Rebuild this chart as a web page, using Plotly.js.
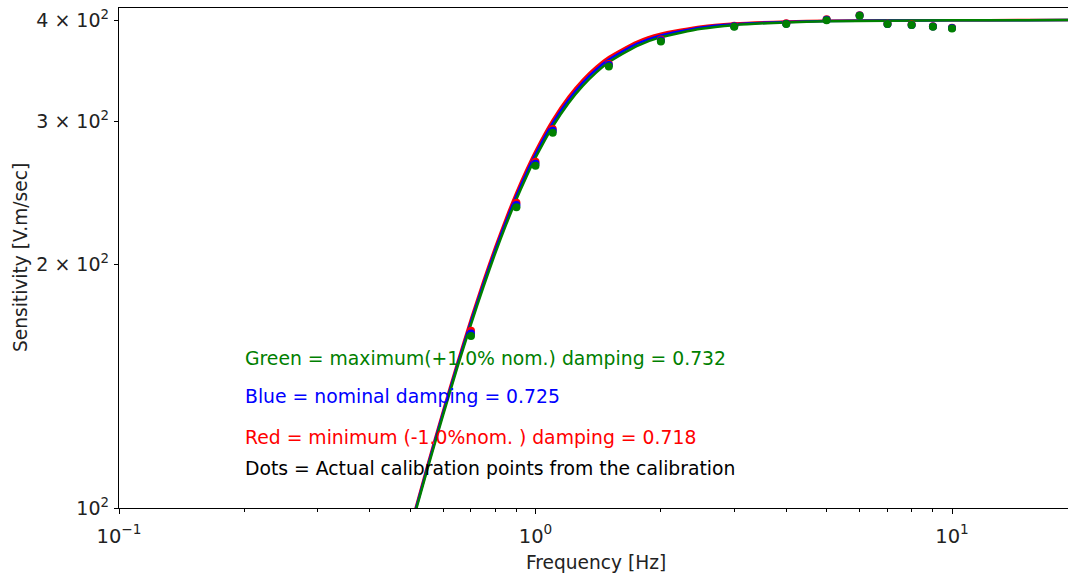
<!DOCTYPE html>
<html>
<head>
<meta charset="utf-8">
<script src="https://cdn.plot.ly/plotly-3.0.1.min.js"></script>
<style>html,body{margin:0;padding:0;background:#fff;}#chart{width:1068px;height:576px;}</style>
</head>
<body>
<div id="chart"></div>
<script>
// Curve frequencies [Hz]
const curveFreq = [0.5,0.55,0.6,0.65,0.7,0.75,0.8,0.85,0.9,0.95,1.0,1.1,1.2,1.3,1.4,1.5,1.75,2,2.5,3,4,5,7,10,15,20];
// Sensitivity curves [V.m/sec]
const redCurve   = [94.5,112.8,131.8,151.4,171.1,190.7,209.7,227.9,245.1,261.0,275.7,301.2,321.7,337.8,350.4,360.1,376.0,384.7,392.9,396.1,398.4,399.2,399.7,399.9,400.0,400.0];
const blueCurve  = [94.1,112.2,131.0,150.4,169.8,189.1,207.9,225.8,242.8,258.5,273.1,298.4,318.8,334.9,347.6,357.5,373.8,382.9,391.6,395.2,397.9,398.9,399.5,399.8,399.9,400.0];
const greenCurve = [93.7,111.6,130.2,149.4,168.5,187.5,206.1,223.7,240.5,256.0,270.5,295.6,315.9,332.0,344.8,354.9,371.6,381.1,390.3,394.3,397.4,398.6,399.3,399.7,399.9,400.0];
// Calibration points
const calFreq   = [0.7,0.9,1.0,1.1,1.5,2,3,4,5,6,7,8,9,10];
const redDots   = [165.5,238,267.5,293.5,353,378.5,393.5,396.5,401,405.5,396,395,393,391.5];
const blueDots  = [164.2,236.5,266,292,352,377.5,393,396,400.3,405.2,395.7,394.6,392.8,391];
const greenDots = [163,235,264.5,290.5,350.5,376.5,392.5,395.5,399.7,405,395.5,394.4,392.5,390.7];
// Tick labels
const xTickVals = [0.1,1,10];
const xTickText = ['10<sup>−1</sup>','10<sup>0</sup>','10<sup>1</sup>'];
const xMinorVals = [0.2,0.3,0.4,0.5,0.6,0.7,0.8,0.9,2,3,4,5,6,7,8,9];
const yTickVals = [100,200,300,400];
const yTickText = ['10<sup>2</sup>','2 × 10<sup>2</sup>','3 × 10<sup>2</sup>','4 × 10<sup>2</sup>'];
const xTitle = 'Frequency [Hz]';
const yTitle = 'Sensitivity [V.m/sec]';
const notes = [
  {text:'Green = maximum(+1.0% nom.) damping = 0.732', color:'#008000'},
  {text:'Blue = nominal damping = 0.725', color:'#0000ff'},
  {text:'Red = minimum (-1.0%nom. ) damping = 0.718', color:'#ff0000'},
  {text:'Dots = Actual calibration points from the calibration', color:'#000000'}
];
const noteY = [0.300,0.224,0.142,0.080];

const lineTrace = (y, c) => ({x: curveFreq, y: y, type:'scatter', mode:'lines', line:{color:c, width:2.5, shape:'spline', smoothing:0.6}, hoverinfo:'skip'});
const dotTrace = (y, c) => ({x: calFreq, y: y, type:'scatter', mode:'markers', marker:{color:c, size:8}, hoverinfo:'skip'});

const data = [
  lineTrace(redCurve,'#ff0000'),
  lineTrace(blueCurve,'#0000ff'),
  lineTrace(greenCurve,'#008000'),
  dotTrace(redDots,'#ff0000'),
  dotTrace(blueDots,'#0000ff'),
  dotTrace(greenDots,'#008000')
];

const FAM = 'DejaVu Sans, sans-serif';
const annots = notes.map((n,i) => ({
  xref:'paper', yref:'paper', x:0.1307, y:noteY[i], xanchor:'left', yanchor:'middle',
  text:n.text, showarrow:false, font:{family:FAM, size:18.8, color:n.color}
}));
annots.push({xref:'paper', yref:'paper', x:0.5026, y:-0.108, xanchor:'center', yanchor:'middle',
  text:xTitle, showarrow:false, font:{family:FAM, size:18.6, color:'#222'}});
annots.push({xref:'paper', yref:'paper', x:-0.1043, y:0.5, xanchor:'center', yanchor:'middle', textangle:-90,
  text:yTitle, showarrow:false, font:{family:FAM, size:18.6, color:'#222'}});

const layout = {
  width:1068, height:576,
  margin:{l:119, r:0, t:8, b:68},
  paper_bgcolor:'#fff', plot_bgcolor:'#fff',
  showlegend:false,
  font:{family:FAM, size:16, color:'#000'},
  xaxis:{
    type:'log', range:[-1, 1.2785],
    showgrid:false, zeroline:false,
    showline:true, linecolor:'#000', linewidth:1.2, mirror:true,
    ticks:'outside', ticklen:5, tickwidth:1, tickcolor:'#000',
    tickmode:'array', tickvals:xTickVals, ticktext:xTickText,
    ticklabelstandoff:5,
    tickfont:{family:FAM, size:19.5, color:'#222'},
    minor:{ticks:'outside', ticklen:3, tickwidth:1, tickcolor:'#000', tickmode:'array', tickvals:xMinorVals, showgrid:false}
  },
  yaxis:{
    type:'log', range:[2, 2.617],
    showgrid:false, zeroline:false,
    showline:true, linecolor:'#000', linewidth:1.2, mirror:false,
    ticks:'outside', ticklen:4, tickwidth:1, tickcolor:'#000',
    tickmode:'array', tickvals:yTickVals, ticktext:yTickText,
    ticklabelstandoff:1,
    tickfont:{family:FAM, size:19, color:'#222'}
  },
  annotations: annots
};

Plotly.newPlot('chart', data, layout, {displayModeBar:false, staticPlot:true});
</script>
</body>
</html>
